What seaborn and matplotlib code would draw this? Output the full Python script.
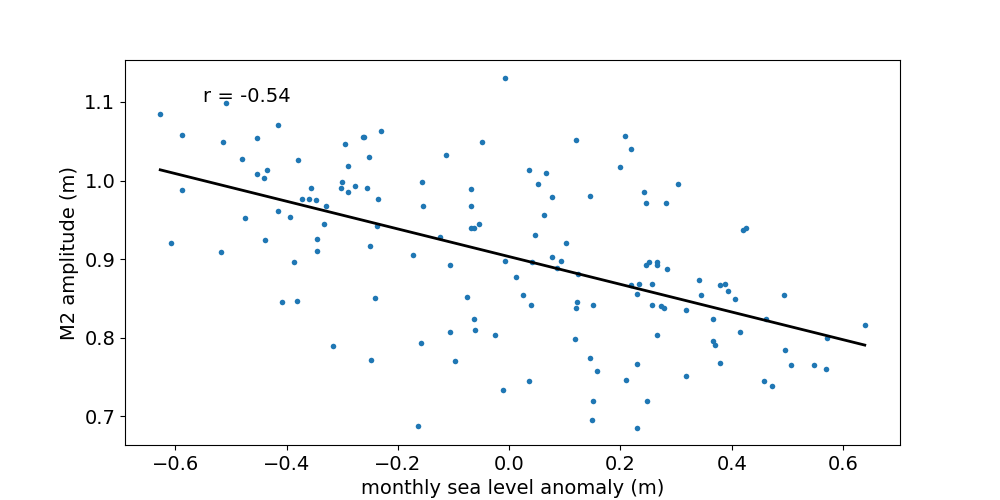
import matplotlib
matplotlib.use("Agg")
import matplotlib.pyplot as plt
import seaborn as sns
import numpy as np

# monthly sea level anomaly (m) and M2 amplitude (m)
sea_level = [
    -0.627, -0.508, -0.415, -0.587, -0.514, -0.453, -0.230, -0.295, -0.263, -0.260,
    -0.480, -0.380, -0.251, -0.289, -0.435, -0.454, -0.440, -0.587, -0.356, -0.301,
    -0.303, -0.277, -0.255, -0.289, -0.235, -0.373, -0.359, -0.347, -0.330, -0.416,
    -0.393, -0.474, -0.332, -0.237, -0.345, -0.438, -0.607, -0.250, -0.345, -0.517,
    -0.386, -0.409, -0.381, -0.241, -0.316, -0.249,
    -0.007, -0.048, -0.113, 0.121, 0.209, 0.219, 0.200, 0.036, 0.067, 0.052,
    -0.156, -0.068, 0.077, 0.146, 0.243, 0.246, -0.154, -0.068, 0.063, -0.054,
    -0.068, -0.064, -0.124, 0.047, 0.103, -0.173, -0.106, -0.007, 0.041, 0.077,
    0.094, 0.086, 0.245, 0.252,
    0.124, 0.013, 0.219, 0.234, 0.230, -0.075, 0.025, 0.039, 0.122, 0.121,
    0.151, -0.063, -0.061, -0.106, -0.025, 0.119, -0.158, -0.097, 0.146, 0.158,
    0.229, 0.210, 0.036, -0.011, 0.151, 0.248, 0.149, 0.230, -0.163,
    0.304, 0.281, 0.421, 0.426, 0.265, 0.266, 0.284,
    0.257, 0.342, 0.378, 0.388, 0.394, 0.345, 0.494, 0.406, 0.257, 0.273,
    0.279, 0.318, 0.367, 0.462, 0.639, 0.266, 0.415, 0.571, 0.367, 0.369,
    0.496, 0.379, 0.507, 0.548, 0.570, 0.318, 0.458, 0.473,
]
m2_amp = [
    1.085, 1.098, 1.070, 1.058, 1.049, 1.054, 1.063, 1.046, 1.055, 1.055,
    1.028, 1.026, 1.030, 1.018, 1.014, 1.008, 1.003, 0.988, 0.991, 0.998,
    0.991, 0.993, 0.991, 0.986, 0.977, 0.977, 0.977, 0.975, 0.968, 0.961,
    0.954, 0.952, 0.945, 0.942, 0.926, 0.924, 0.921, 0.917, 0.911, 0.909,
    0.896, 0.845, 0.847, 0.851, 0.789, 0.772,
    1.131, 1.049, 1.032, 1.052, 1.056, 1.040, 1.017, 1.014, 1.009, 0.996,
    0.998, 0.989, 0.979, 0.980, 0.985, 0.971, 0.967, 0.967, 0.956, 0.945,
    0.940, 0.940, 0.928, 0.931, 0.920, 0.905, 0.892, 0.898, 0.896, 0.903,
    0.898, 0.889, 0.893, 0.896,
    0.881, 0.877, 0.867, 0.869, 0.856, 0.852, 0.855, 0.842, 0.845, 0.838,
    0.842, 0.824, 0.810, 0.807, 0.804, 0.798, 0.793, 0.771, 0.774, 0.758,
    0.767, 0.747, 0.745, 0.734, 0.720, 0.720, 0.695, 0.686, 0.688,
    0.996, 0.971, 0.937, 0.940, 0.896, 0.892, 0.888,
    0.869, 0.873, 0.867, 0.868, 0.859, 0.854, 0.855, 0.849, 0.842, 0.841,
    0.838, 0.836, 0.824, 0.824, 0.816, 0.804, 0.808, 0.800, 0.796, 0.791,
    0.785, 0.768, 0.765, 0.765, 0.760, 0.752, 0.745, 0.739,
]

plt.rcParams['font.size'] = 14

fig, ax = plt.subplots(figsize=(10, 5), dpi=100)
sns.regplot(x=np.array(sea_level), y=np.array(m2_amp), ax=ax, ci=None,
            scatter_kws={'s': 16, 'alpha': 1, 'color': '#1f77b4', 'linewidths': 0},
            line_kws={'color': 'k', 'linewidth': 2})

ax.text(-0.55, 1.1, 'r = -0.54', fontsize=14)
ax.set_xlabel('monthly sea level anomaly (m)')
ax.set_ylabel('M2 amplitude (m)')

fig.savefig('out.png', dpi=100)
